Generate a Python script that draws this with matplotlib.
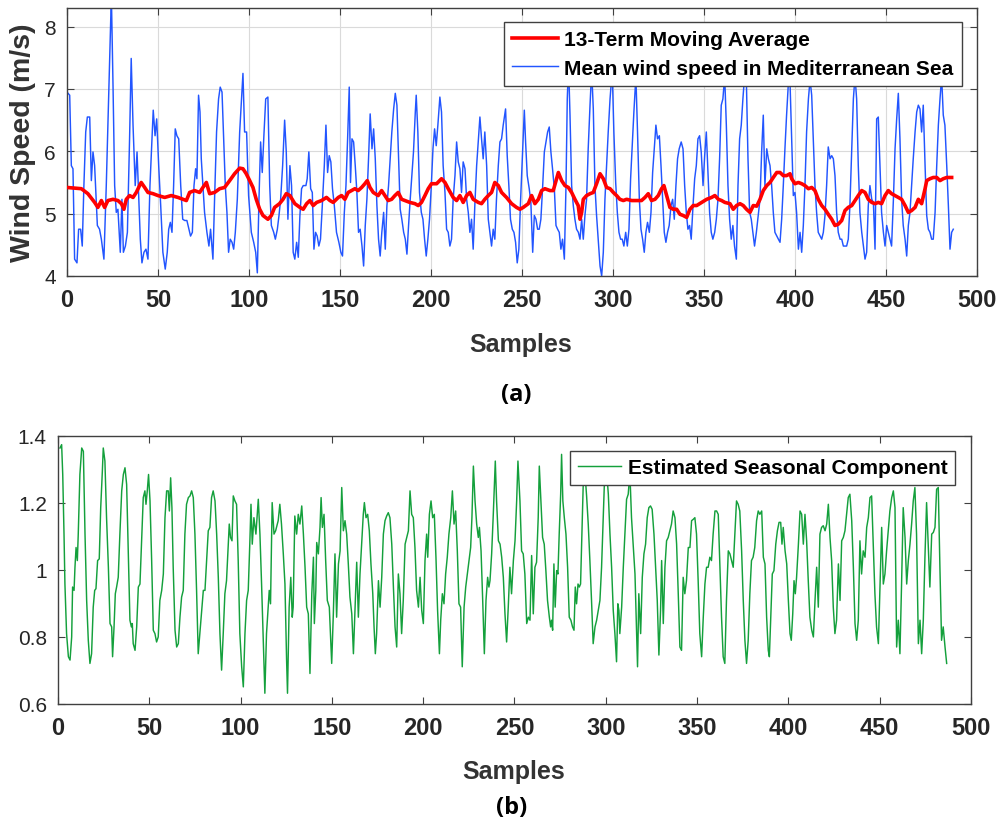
import matplotlib
matplotlib.use('Agg')
import matplotlib.pyplot as plt


# (a) mean wind speed: sample index -> m/s
wind_samples = [
    0, 1.5, 2.4, 3.3, 4.2, 5.5, 6.4, 7.5, 8.4, 9.3,
    10.3, 11.2, 12.5, 13.4, 14.3, 15.2, 16.7, 17.9, 18.9, 20.3,
    21.6, 22.9, 24.4, 25.3, 26.2, 27.1, 28.0, 29.3, 30.2, 31.0,
    32.1, 33.2, 34.4, 35.3, 36.3, 37.5, 38.5, 39.4, 40.3, 41.2,
    42.3, 43.4, 44.5, 45.6, 46.7, 47.4, 48.4, 49.3, 50.4, 51.5,
    52.7, 54.0, 55.1, 55.9, 56.8, 57.7, 58.6, 59.5, 60.4, 61.4,
    62.5, 63.6, 64.7, 65.9, 67.0, 67.9, 68.9, 69.8, 70.7, 71.4,
    72.3, 73.1, 73.8, 74.7, 75.6, 76.9, 78.0, 78.9, 80.2, 81.1,
    82.2, 83.3, 84.2, 85.2, 86.1, 87.0, 87.9, 88.8, 89.7, 90.7,
    91.6, 92.5, 93.6, 94.9, 95.8, 96.7, 97.6, 98.7, 99.8, 101.3,
    102.6, 103.7, 104.6, 105.5, 106.4, 107.3, 108.2, 109.2, 110.4, 111.4,
    112.3, 113.6, 114.5, 115.6, 116.5, 117.4, 118.5, 119.6, 120.5, 121.4,
    122.5, 123.4, 124.3, 125.2, 126.2, 127.1, 128.0, 128.9, 129.8, 131.3,
    132.0, 132.9, 133.9, 134.8, 135.7, 136.6, 137.5, 138.4, 139.3, 140.3,
    141.4, 142.3, 143.2, 144.1, 145.0, 145.9, 146.9, 148.1, 149.4, 150.5,
    151.4, 152.4, 153.3, 154.2, 155.1, 155.8, 156.6, 157.5, 158.4, 159.3,
    160.2, 161.1, 162.1, 163.0, 163.9, 164.8, 165.7, 166.6, 167.6, 168.5,
    169.4, 170.3, 171.2, 172.1, 173.0, 174.0, 174.9, 175.8, 176.7, 177.6,
    178.5, 179.5, 180.4, 181.3, 182.2, 183.1, 184.0, 185.0, 185.9, 186.8,
    187.7, 188.6, 189.5, 190.4, 191.4, 191.9, 192.8, 193.7, 194.7, 195.6,
    196.5, 197.4, 198.3, 199.2, 200.2, 201.1, 202.0, 202.9, 203.8, 204.9,
    205.8, 206.7, 207.7, 208.6, 209.5, 210.4, 211.3, 212.2, 213.2, 214.1,
    215.0, 215.9, 216.8, 217.7, 218.7, 219.6, 220.5, 221.4, 222.3, 223.2,
    224.1, 225.1, 226.0, 226.9, 227.8, 228.7, 229.6, 230.6, 231.5, 232.4,
    233.3, 234.2, 235.1, 236.0, 237.0, 237.9, 238.8, 239.7, 241.0, 241.9,
    242.8, 243.7, 244.7, 245.6, 246.5, 247.4, 248.3, 249.2, 250.2, 251.3,
    252.0, 252.9, 254.0, 254.9, 255.9, 256.8, 257.7, 258.6, 259.5, 260.4,
    261.4, 262.3, 263.2, 264.1, 265.0, 265.9, 266.8, 267.8, 268.7, 269.6,
    270.5, 271.4, 272.3, 273.3, 274.2, 274.9, 275.6, 276.4, 277.3, 278.2,
    279.1, 280.0, 281.0, 281.9, 282.8, 283.7, 284.6, 285.5, 286.4, 287.4,
    288.3, 289.2, 290.1, 291.0, 291.9, 292.9, 293.8, 294.7, 295.6, 296.5,
    297.4, 298.4, 299.6, 300.5, 301.5, 302.4, 303.3, 304.2, 305.1, 306.0,
    307.0, 307.9, 308.8, 309.7, 310.6, 311.5, 312.6, 313.5, 314.5, 315.4,
    316.3, 317.2, 318.1, 319.0, 320.0, 320.9, 321.8, 322.7, 323.6, 324.5,
    325.5, 326.4, 327.3, 328.2, 329.1, 330.0, 330.9, 331.9, 332.8, 333.7,
    334.6, 335.5, 336.4, 337.5, 338.5, 339.4, 340.3, 341.2, 342.1, 343.0,
    344.0, 344.9, 345.8, 346.7, 347.6, 348.5, 349.5, 350.4, 351.3, 352.2,
    353.1, 354.0, 354.9, 355.9, 356.8, 357.7, 358.6, 359.5, 360.4, 361.4,
    362.3, 363.2, 364.1, 365.0, 365.9, 366.8, 367.8, 368.7, 369.6, 370.5,
    371.4, 372.3, 373.3, 374.2, 375.1, 376.0, 376.9, 377.8, 378.8, 380.8,
    381.7, 382.6, 383.5, 384.5, 385.4, 386.3, 387.2, 388.1, 389.0, 390.0,
    390.9, 391.8, 392.7, 393.6, 394.5, 395.4, 396.4, 397.3, 398.2, 399.1,
    400.0, 400.9, 401.9, 402.8, 403.7, 404.6, 405.5, 406.4, 407.4, 408.3,
    409.2, 410.1, 411.0, 411.9, 412.8, 413.8, 414.7, 415.6, 416.5, 417.4,
    418.3, 419.3, 420.2, 421.1, 422.0, 422.9, 423.8, 424.8, 425.7, 426.6,
    427.5, 428.4, 429.3, 430.2, 431.2, 432.1, 433.0, 433.9, 434.8, 435.7,
    436.7, 437.6, 438.5, 439.4, 440.3, 441.2, 442.2, 443.1, 444.0, 444.9,
    445.8, 446.7, 447.6, 448.6, 449.5, 450.4, 451.3, 452.2, 453.1, 454.1,
    455.0, 455.9, 456.8, 457.7, 458.6, 459.5, 460.5, 461.4, 462.3, 463.2,
    464.1, 465.0, 466.0, 466.9, 467.8, 468.7, 469.6, 470.5, 471.5, 472.4,
    473.3, 474.2, 475.1, 476.0, 477.0, 477.9, 478.8, 479.7, 480.6, 481.5,
    482.4, 483.4, 484.3, 485.2, 486.1, 487.0,
]
wind_speed = [
    6.95, 6.90, 5.77, 5.72, 4.27, 4.21, 4.75, 4.75, 4.48, 5.45,
    6.31, 6.55, 6.55, 5.53, 5.99, 5.77, 4.81, 4.75, 4.59, 4.27,
    5.45, 6.84, 8.50, 7.06, 5.45, 5.02, 5.07, 4.38, 5.23, 4.38,
    4.48, 4.70, 6.20, 7.49, 6.42, 5.45, 5.99, 5.29, 4.59, 4.21,
    4.38, 4.43, 4.27, 5.45, 6.20, 6.66, 6.25, 6.52, 5.77, 5.13,
    4.38, 4.11, 4.38, 4.75, 4.86, 4.70, 5.45, 6.36, 6.25, 6.20,
    5.45, 4.91, 4.89, 4.89, 4.75, 4.64, 4.70, 5.45, 5.72, 5.56,
    6.90, 6.63, 5.88, 5.45, 5.02, 4.70, 4.48, 4.75, 4.27, 5.23,
    6.31, 6.84, 7.03, 6.95, 6.20, 5.45, 5.02, 4.38, 4.59, 4.54,
    4.43, 4.70, 5.23, 6.31, 6.79, 7.25, 6.31, 6.31, 5.29, 4.70,
    4.54, 4.38, 4.05, 5.23, 6.15, 5.66, 6.25, 6.84, 6.87, 5.45,
    4.81, 4.70, 4.59, 4.75, 4.97, 5.23, 5.77, 6.50, 5.99, 4.91,
    5.77, 5.45, 4.38, 4.27, 4.54, 4.30, 4.97, 5.40, 5.45, 5.45,
    5.56, 5.99, 5.40, 5.34, 4.43, 4.70, 4.64, 4.48, 4.59, 5.13,
    5.77, 6.42, 5.66, 5.93, 5.83, 5.40, 5.13, 4.70, 4.54, 4.38,
    4.32, 5.02, 5.45, 6.20, 7.03, 5.50, 6.20, 6.15, 5.77, 5.34,
    4.70, 4.75, 4.48, 4.16, 4.81, 5.23, 5.88, 6.60, 6.04, 6.36,
    5.88, 5.13, 4.59, 4.32, 4.70, 5.02, 4.43, 5.13, 5.45, 5.88,
    6.31, 6.68, 6.93, 6.74, 5.88, 5.07, 4.91, 4.70, 4.59, 4.35,
    4.81, 5.23, 5.61, 5.99, 6.63, 6.90, 6.31, 5.34, 5.02, 4.91,
    4.59, 4.32, 4.59, 4.91, 5.45, 6.04, 6.36, 6.09, 6.42, 6.87,
    6.63, 5.77, 5.34, 4.75, 4.70, 4.48, 4.59, 5.23, 5.61, 6.15,
    5.83, 5.72, 5.34, 5.83, 5.72, 5.23, 5.02, 4.70, 4.91, 4.43,
    5.13, 5.77, 6.15, 6.55, 6.20, 5.88, 6.31, 5.77, 4.91, 4.70,
    4.48, 4.75, 4.59, 5.23, 5.77, 6.15, 6.20, 6.42, 6.68, 5.93,
    5.45, 4.91, 4.75, 4.70, 4.54, 4.21, 4.43, 5.18, 5.88, 6.66,
    6.15, 5.61, 5.40, 5.18, 4.38, 4.97, 4.91, 4.75, 4.75, 4.91,
    5.45, 5.99, 6.15, 6.31, 6.39, 5.99, 5.72, 5.40, 4.81, 4.75,
    4.70, 4.43, 4.59, 4.27, 5.45, 6.84, 7.40, 6.58, 5.45, 5.13,
    4.91, 4.75, 4.70, 4.59, 4.91, 4.59, 4.97, 5.23, 6.04, 6.74,
    7.30, 6.68, 5.45, 4.97, 4.59, 4.16, 4.00, 4.38, 5.23, 5.77,
    6.31, 6.84, 7.30, 6.31, 5.50, 5.02, 4.70, 4.59, 4.59, 4.48,
    4.70, 4.48, 4.75, 5.56, 6.09, 6.63, 7.20, 6.31, 5.23, 4.75,
    4.59, 4.38, 4.70, 4.86, 4.70, 5.02, 5.66, 6.04, 6.42, 6.20,
    6.25, 5.77, 5.23, 4.70, 4.54, 4.70, 4.81, 5.13, 5.23, 4.91,
    5.45, 5.88, 6.04, 6.15, 6.04, 5.45, 5.02, 4.75, 4.81, 4.59,
    5.13, 5.56, 5.77, 6.20, 6.25, 5.99, 5.45, 5.93, 6.31, 5.66,
    5.02, 4.70, 4.59, 4.70, 4.91, 5.23, 5.88, 6.74, 6.84, 7.20,
    6.42, 5.45, 4.91, 4.59, 4.81, 4.48, 4.27, 5.45, 6.20, 6.42,
    6.84, 7.20, 7.15, 5.88, 5.02, 4.91, 4.70, 4.48, 4.70, 5.23,
    5.99, 6.58, 5.45, 6.04, 5.88, 5.77, 5.45, 5.02, 4.70, 4.64,
    4.59, 4.54, 4.91, 5.45, 6.04, 6.58, 7.10, 7.10, 6.20, 5.29,
    5.34, 5.02, 4.43, 4.70, 4.38, 4.81, 5.45, 6.31, 6.84, 7.15,
    6.90, 6.15, 5.45, 5.02, 4.70, 4.64, 4.59, 4.70, 4.97, 5.45,
    6.07, 5.88, 5.93, 5.88, 5.61, 5.02, 4.70, 4.59, 4.59, 4.48,
    4.48, 4.48, 4.59, 5.13, 6.04, 6.84, 7.20, 6.84, 5.77, 5.02,
    4.70, 4.48, 4.27, 4.38, 5.13, 5.45, 5.23, 5.18, 4.43, 6.52,
    6.55, 5.77, 5.02, 4.70, 4.48, 4.81, 4.70, 4.59, 4.48, 5.23,
    6.04, 6.52, 6.93, 6.20, 5.23, 4.81, 4.59, 4.32, 4.81, 5.02,
    5.45, 5.88, 6.31, 6.63, 6.74, 6.68, 6.31, 6.74, 5.77, 4.97,
    4.75, 4.70, 4.59, 4.59, 5.02, 5.77, 6.42, 6.84, 7.20, 6.58,
    6.42, 5.77, 5.13, 4.43, 4.70, 4.75,
]

# 13-term moving average (red)
ma_samples = [
    0, 4.2, 7.9, 11.5, 15.2, 17.0, 18.9, 20.7, 22.5, 25.3,
    28.0, 29.9, 31.3, 32.6, 34.4, 36.3, 38.1, 39.9, 40.8, 42.7,
    44.5, 47.3, 50.0, 53.7, 57.3, 61.0, 63.7, 65.6, 67.4, 70.1,
    72.9, 74.7, 76.6, 78.4, 81.1, 83.9, 86.6, 89.4, 92.1, 94.9,
    96.7, 98.5, 100.4, 102.2, 104.0, 105.9, 107.7, 110.4, 112.3, 114.1,
    116.8, 118.7, 120.5, 122.5, 125.2, 128.0, 129.8, 131.7, 133.5, 135.3,
    137.2, 139.9, 142.6, 144.5, 146.3, 149.1, 150.9, 152.7, 154.5, 156.4,
    158.2, 160.0, 161.9, 163.7, 165.0, 166.5, 168.3, 171.0, 172.9, 174.7,
    176.5, 178.4, 180.2, 182.0, 183.9, 185.7, 188.4, 191.2, 193.0, 194.8,
    196.7, 198.5, 200.3, 203.1, 205.8, 207.7, 209.5, 212.2, 214.1, 215.9,
    217.7, 219.6, 221.4, 223.2, 226.0, 227.8, 229.6, 231.5, 233.3, 235.1,
    237.0, 238.8, 241.5, 244.3, 247.0, 248.9, 250.7, 253.5, 255.3, 257.1,
    259.0, 260.8, 262.6, 265.4, 267.2, 269.0, 270.0, 271.8, 273.6, 275.5,
    277.3, 279.1, 280.9, 281.9, 282.8, 283.7, 285.5, 287.4, 289.2, 291.0,
    292.9, 294.7, 296.5, 298.4, 300.2, 302.0, 303.8, 305.7, 307.5, 310.3,
    313.0, 315.7, 317.6, 319.4, 321.2, 323.1, 324.9, 326.7, 328.0, 329.5,
    331.3, 333.1, 335.0, 336.8, 338.6, 340.5, 342.3, 344.1, 346.0, 348.7,
    351.5, 354.2, 356.0, 357.9, 359.7, 361.5, 364.3, 366.1, 367.9, 369.8,
    371.6, 373.4, 375.3, 377.1, 379.0, 380.8, 382.6, 384.5, 386.3, 388.1,
    390.0, 391.8, 393.6, 395.4, 397.3, 398.2, 400.0, 401.9, 403.7, 405.5,
    407.4, 409.2, 411.0, 412.8, 414.7, 416.5, 418.3, 420.2, 422.0, 423.8,
    425.7, 427.5, 429.3, 431.2, 433.0, 434.8, 436.7, 438.5, 440.3, 442.2,
    444.0, 445.8, 447.6, 449.5, 451.3, 453.1, 455.0, 456.8, 458.6, 460.5,
    462.3, 464.1, 466.0, 467.8, 469.6, 471.5, 472.4, 474.2, 476.0, 477.9,
    479.7, 481.5, 483.4, 486.1,
]
ma_speed = [
    5.42, 5.41, 5.40, 5.32, 5.18, 5.10, 5.21, 5.10, 5.21, 5.23,
    5.21, 5.16, 5.07, 5.23, 5.29, 5.26, 5.34, 5.45, 5.50, 5.42,
    5.34, 5.32, 5.29, 5.26, 5.29, 5.26, 5.23, 5.21, 5.34, 5.37,
    5.34, 5.42, 5.50, 5.32, 5.34, 5.40, 5.42, 5.53, 5.64, 5.73,
    5.72, 5.64, 5.53, 5.42, 5.23, 5.07, 4.97, 4.91, 4.97, 5.10,
    5.16, 5.23, 5.32, 5.29, 5.16, 5.10, 5.07, 5.16, 5.21, 5.13,
    5.18, 5.21, 5.26, 5.21, 5.18, 5.26, 5.29, 5.23, 5.34, 5.37,
    5.40, 5.37, 5.42, 5.48, 5.53, 5.42, 5.34, 5.29, 5.37, 5.29,
    5.21, 5.23, 5.29, 5.34, 5.23, 5.21, 5.18, 5.16, 5.13, 5.18,
    5.29, 5.40, 5.48, 5.48, 5.56, 5.50, 5.40, 5.26, 5.21, 5.29,
    5.18, 5.29, 5.34, 5.23, 5.18, 5.16, 5.23, 5.29, 5.34, 5.50,
    5.45, 5.34, 5.26, 5.16, 5.10, 5.07, 5.10, 5.16, 5.29, 5.16,
    5.23, 5.37, 5.40, 5.37, 5.37, 5.56, 5.66, 5.53, 5.45, 5.42,
    5.34, 5.23, 5.13, 4.91, 5.02, 5.23, 5.29, 5.32, 5.34, 5.48,
    5.64, 5.56, 5.42, 5.40, 5.34, 5.29, 5.23, 5.21, 5.23, 5.21,
    5.21, 5.21, 5.26, 5.32, 5.21, 5.23, 5.29, 5.40, 5.45, 5.29,
    5.10, 5.07, 5.07, 4.99, 4.97, 4.94, 5.07, 5.13, 5.13, 5.18,
    5.23, 5.26, 5.29, 5.23, 5.21, 5.18, 5.16, 5.07, 5.13, 5.16,
    5.13, 5.07, 5.02, 5.13, 5.12, 5.23, 5.37, 5.45, 5.50, 5.58,
    5.66, 5.66, 5.61, 5.61, 5.64, 5.56, 5.48, 5.50, 5.48, 5.45,
    5.40, 5.42, 5.37, 5.23, 5.13, 5.07, 4.99, 4.91, 4.81, 4.83,
    4.89, 5.05, 5.10, 5.13, 5.21, 5.29, 5.37, 5.34, 5.23, 5.18,
    5.16, 5.18, 5.16, 5.29, 5.37, 5.32, 5.29, 5.26, 5.23, 5.13,
    5.02, 5.05, 5.10, 5.23, 5.16, 5.40, 5.53, 5.56, 5.58, 5.58,
    5.53, 5.56, 5.58, 5.58,
]

# (b) estimated seasonal component (green)
seasonal_samples = [
    1.1, 2.0, 2.6, 3.3, 3.8, 4.7, 5.7, 6.6, 7.5, 8.0,
    8.8, 9.3, 9.9, 10.6, 11.1, 12.0, 13.0, 13.9, 14.8, 15.7,
    16.6, 17.5, 18.4, 19.3, 20.1, 20.8, 21.7, 22.6, 23.4, 24.3,
    24.8, 25.7, 26.6, 27.6, 28.5, 29.4, 29.9, 30.7, 31.4, 32.1,
    33.0, 33.9, 34.9, 35.8, 36.7, 37.6, 38.5, 39.4, 40.2, 40.7,
    41.2, 42.2, 43.1, 44.0, 44.9, 45.8, 46.7, 47.6, 48.2, 48.9,
    49.6, 50.4, 51.3, 52.2, 53.1, 54.0, 54.9, 55.8, 56.8, 57.7,
    58.6, 59.5, 60.4, 61.0, 61.7, 62.4, 63.1, 64.1, 65.0, 65.9,
    66.8, 67.7, 68.6, 69.5, 70.4, 71.4, 72.3, 73.2, 74.1, 75.0,
    75.9, 76.8, 77.7, 78.7, 79.6, 80.5, 81.4, 82.3, 83.2, 84.1,
    85.0, 86.0, 86.9, 87.8, 88.7, 89.6, 90.5, 91.4, 92.3, 93.3,
    93.8, 94.5, 95.3, 96.0, 96.9, 97.8, 98.7, 99.6, 100.6, 101.5,
    102.4, 103.3, 104.2, 105.1, 105.7, 106.4, 107.3, 108.4, 109.7, 110.6,
    111.5, 112.4, 113.3, 114.2, 115.1, 115.7, 116.4, 117.3, 118.3, 119.2,
    120.6, 121.5, 122.4, 123.4, 124.3, 125.2, 125.7, 126.6, 127.5, 128.3,
    128.8, 129.7, 130.7, 131.6, 132.5, 133.5, 134.4, 135.3, 136.2, 137.1,
    138.0, 139.0, 139.9, 140.4, 141.2, 141.7, 142.6, 143.5, 144.1, 144.8,
    145.7, 146.6, 147.5, 148.6, 149.9, 150.8, 151.7, 152.6, 153.6, 154.5,
    155.4, 156.3, 157.2, 158.1, 159.0, 159.9, 160.9, 161.8, 162.7, 163.6,
    164.5, 165.4, 166.3, 167.2, 167.8, 168.7, 169.6, 170.5, 171.4, 172.4,
    173.1, 173.8, 174.5, 175.5, 176.4, 177.3, 178.2, 179.1, 180.0, 180.9,
    181.8, 182.8, 183.7, 184.6, 185.5, 186.4, 187.3, 188.2, 189.1, 190.1,
    191.0, 191.9, 192.8, 193.7, 194.6, 195.5, 196.4, 197.4, 198.3, 199.2,
    200.1, 201.0, 201.9, 202.5, 203.4, 204.3, 205.2, 206.1, 207.0, 207.9,
    208.9, 209.6, 210.5, 211.4, 212.3, 213.2, 214.1, 215.1, 216.0, 216.9,
    217.8, 218.7, 219.6, 220.5, 221.4, 222.4, 223.3, 224.2, 225.1, 226.0,
    226.7, 227.5, 228.4, 229.3, 230.2, 230.8, 231.7, 232.6, 233.5, 234.4,
    235.3, 236.0, 236.6, 237.5, 238.4, 239.5, 240.2, 241.2, 242.1, 243.0,
    243.9, 244.8, 245.7, 246.6, 247.5, 248.4, 249.4, 250.3, 251.2, 251.9,
    253.0, 253.9, 254.8, 255.7, 256.7, 257.6, 258.5, 259.4, 260.3, 261.2,
    262.1, 263.0, 263.6, 264.5, 265.4, 266.3, 267.2, 268.1, 269.1, 269.8,
    270.3, 270.9, 271.6, 272.3, 273.1, 273.8, 274.5, 275.3, 275.8, 276.5,
    277.3, 278.2, 279.1, 280.0, 280.9, 281.8, 282.6, 283.3, 284.0, 284.8,
    285.5, 286.2, 286.9, 287.7, 288.6, 289.5, 290.4, 291.3, 292.2, 293.1,
    294.1, 295.0, 295.9, 296.8, 297.7, 298.6, 299.5, 300.4, 301.4, 302.3,
    303.2, 304.1, 305.0, 305.9, 306.6, 307.2, 307.7, 308.7, 309.6, 310.5,
    311.4, 312.3, 313.2, 314.1, 315.0, 316.0, 316.9, 317.4, 318.1, 319.1,
    320.0, 320.9, 321.8, 322.7, 323.6, 324.5, 325.4, 326.4, 327.3, 328.2,
    329.1, 330.0, 330.6, 331.5, 332.4, 333.3, 334.2, 335.1, 336.0, 336.9,
    337.9, 338.8, 339.7, 340.6, 341.5, 342.4, 343.3, 344.2, 345.2, 346.1,
    347.0, 347.9, 348.8, 349.7, 350.6, 351.5, 352.5, 353.4, 354.3, 355.2,
    356.1, 357.0, 357.9, 358.8, 359.8, 360.7, 361.6, 362.5, 363.4, 364.3,
    365.2, 366.1, 367.1, 368.0, 368.9, 369.8, 370.7, 371.6, 372.5, 373.4,
    374.4, 375.3, 376.2, 377.1, 378.0, 378.9, 379.8, 380.7, 381.6, 382.6,
    383.5, 384.4, 385.4, 386.3, 387.2, 388.1, 389.0, 389.6, 390.3, 391.2,
    392.1, 393.1, 394.0, 394.9, 395.8, 396.5, 397.2, 398.2, 399.1, 400.0,
    400.9, 401.6, 402.4, 403.1, 403.8, 404.5, 405.5, 406.4, 407.3, 408.2,
    409.1, 410.0, 410.9, 411.8, 412.8, 413.7, 414.6, 415.5, 416.4, 417.3,
    418.2, 419.1, 420.1, 421.0, 421.9, 422.8, 423.7, 424.6, 425.5, 426.4,
    427.4, 428.3, 429.2, 430.1, 431.0, 431.9, 432.8, 433.7, 434.7, 435.6,
    436.5, 437.4, 438.3, 439.2, 440.1, 441.0, 442.0, 442.9, 443.8, 444.7,
    445.6, 446.5, 447.4, 448.3, 449.3, 450.2, 451.1, 452.0, 452.9, 453.8,
    454.7, 455.6, 456.6, 457.5, 458.4, 459.3, 460.2, 461.1, 462.0, 462.9,
    463.9, 464.8, 465.7, 466.6, 467.5, 468.4, 469.3, 470.2, 471.2, 472.1,
    473.0, 473.9, 474.8, 475.7, 476.6, 477.5, 478.5, 479.4, 480.3, 481.2,
    482.1, 483.0, 483.9, 484.8, 485.8, 486.7,
]
seasonal_index = [
    1.364, 1.374, 1.285, 1.107, 0.958, 0.810, 0.741, 0.731, 0.800, 0.949,
    0.939, 1.008, 1.067, 1.028, 1.107, 1.285, 1.364, 1.354, 1.107, 0.909,
    0.790, 0.721, 0.750, 0.889, 0.939, 0.944, 1.028, 1.033, 1.186, 1.295,
    1.364, 1.325, 1.156, 1.008, 0.840, 0.830, 0.741, 0.830, 0.929, 0.949,
    0.978, 1.107, 1.236, 1.285, 1.305, 1.255, 1.057, 0.850, 0.830, 0.840,
    0.780, 0.760, 0.830, 0.949, 0.958, 1.087, 1.216, 1.236, 1.196, 1.236,
    1.285, 1.206, 1.028, 0.820, 0.810, 0.785, 0.800, 0.909, 0.939, 0.988,
    1.156, 1.236, 1.236, 1.176, 1.275, 1.186, 1.008, 0.820, 0.770, 0.780,
    0.859, 0.919, 0.939, 1.107, 1.196, 1.216, 1.221, 1.236, 1.216, 1.107,
    0.939, 0.750, 0.810, 0.879, 0.939, 0.939, 1.028, 1.117, 1.127, 1.216,
    1.236, 1.206, 1.107, 0.978, 0.810, 0.701, 0.810, 0.929, 0.968, 1.077,
    1.137, 1.097, 1.087, 1.221, 1.206, 1.196, 1.028, 0.810, 0.711, 0.651,
    0.810, 0.909, 0.939, 1.087, 1.196, 1.077, 1.156, 1.107, 1.211, 1.107,
    0.958, 0.790, 0.632, 0.810, 0.889, 0.939, 0.899, 1.201, 1.107, 1.117,
    1.147, 1.196, 1.137, 1.048, 0.958, 0.731, 0.632, 0.889, 0.978, 0.859,
    0.889, 1.161, 1.107, 1.166, 1.137, 1.191, 1.107, 1.008, 0.889, 0.869,
    0.691, 0.929, 1.038, 0.840, 0.939, 1.082, 1.048, 1.127, 1.216, 1.127,
    1.166, 1.028, 0.909, 0.889, 0.721, 0.869, 1.048, 0.859, 1.018, 1.057,
    1.246, 1.117, 1.147, 1.107, 1.018, 0.919, 0.869, 0.750, 0.889, 1.023,
    0.859, 0.988, 1.077, 1.166, 1.201, 1.156, 1.166, 1.117, 1.018, 0.929,
    0.830, 0.750, 0.810, 0.968, 0.889, 0.978, 1.107, 1.147, 1.161, 1.171,
    1.156, 1.077, 0.949, 0.830, 0.770, 0.988, 0.929, 0.810, 0.909, 1.077,
    1.097, 1.117, 1.236, 1.166, 1.156, 1.067, 0.939, 0.889, 0.978, 0.879,
    0.840, 1.028, 1.107, 1.038, 1.166, 1.206, 1.156, 1.166, 1.038, 0.879,
    0.750, 0.850, 0.929, 0.899, 0.988, 1.038, 1.107, 1.156, 1.236, 1.137,
    1.176, 1.057, 0.899, 0.889, 0.711, 0.889, 0.949, 0.988, 1.028, 1.067,
    1.156, 1.310, 1.206, 1.137, 1.097, 1.127, 1.057, 0.909, 0.750, 0.909,
    0.978, 0.949, 0.968, 1.048, 1.166, 1.325, 1.206, 1.087, 1.077, 1.038,
    0.978, 0.869, 0.785, 0.889, 1.008, 0.929, 1.028, 1.087, 1.206, 1.325,
    1.206, 1.057, 1.048, 0.988, 0.840, 0.859, 0.850, 1.043, 0.869, 1.008,
    1.023, 1.156, 1.310, 1.206, 1.097, 1.077, 0.998, 0.909, 0.859, 0.830,
    0.850, 0.820, 1.018, 0.889, 0.998, 0.988, 1.107, 1.226, 1.345, 1.206,
    1.156, 1.107, 1.008, 0.859, 0.850, 0.830, 0.820, 0.949, 0.899, 0.958,
    0.949, 0.958, 1.107, 1.265, 1.290, 1.221, 1.137, 1.028, 0.909, 0.780,
    0.830, 0.850, 0.879, 0.909, 1.008, 1.156, 1.300, 1.300, 1.226, 1.107,
    1.008, 0.879, 0.810, 0.726, 0.899, 0.879, 0.810, 0.889, 1.008, 1.107,
    1.211, 1.226, 1.290, 1.156, 1.077, 0.988, 0.810, 0.711, 0.929, 0.810,
    0.978, 1.048, 1.077, 1.156, 1.186, 1.191, 1.181, 1.107, 1.008, 0.909,
    0.746, 0.879, 1.028, 0.840, 1.008, 1.087, 1.097, 1.117, 1.137, 1.176,
    1.156, 1.077, 0.929, 0.770, 0.760, 0.978, 0.929, 0.968, 1.067, 1.067,
    1.147, 1.151, 1.156, 1.107, 0.968, 0.810, 0.741, 0.859, 0.958, 1.008,
    1.008, 1.038, 1.028, 1.107, 1.176, 1.176, 1.166, 1.008, 0.859, 0.741,
    0.721, 0.909, 1.057, 1.048, 1.028, 1.008, 1.107, 1.206, 1.196, 1.176,
    1.057, 0.909, 0.790, 0.721, 0.790, 0.929, 1.028, 1.038, 1.067, 1.147,
    1.176, 1.166, 1.176, 1.038, 1.018, 0.859, 0.760, 0.741, 0.850, 0.988,
    0.998, 1.077, 1.117, 1.142, 1.142, 1.077, 1.127, 1.057, 1.018, 0.909,
    0.810, 0.790, 0.869, 0.968, 0.929, 0.978, 1.077, 1.176, 1.166, 1.077,
    1.166, 1.087, 0.968, 0.859, 0.820, 0.800, 0.909, 1.008, 0.889, 1.107,
    1.127, 1.132, 1.117, 1.137, 1.196, 1.097, 1.028, 0.889, 0.810, 0.850,
    1.018, 0.909, 1.087, 1.097, 1.117, 1.166, 1.216, 1.226, 1.147, 1.008,
    0.840, 0.790, 0.850, 1.087, 0.988, 1.057, 1.038, 1.127, 1.156, 1.216,
    1.221, 1.077, 0.929, 0.830, 0.780, 0.958, 1.127, 0.958, 0.988, 1.057,
    1.117, 1.176, 1.216, 1.236, 1.186, 0.770, 0.850, 0.750, 0.958, 1.186,
    1.097, 0.958, 1.028, 1.077, 1.137, 1.206, 1.246, 1.107, 0.780, 0.850,
    0.750, 0.850, 1.038, 1.201, 1.077, 0.949, 1.107, 1.112, 1.127, 1.241,
    1.246, 1.008, 0.790, 0.830, 0.770, 0.721,
]

x_ticks = list(range(0, 501, 50))
wind_ticks = [4, 5, 6, 7, 8]
seasonal_ticks = [0.6, 0.8, 1.0, 1.2, 1.4]
seasonal_tick_labels = ['0.6', '0.8', '1', '1.2', '1.4']

assert len(wind_samples) == len(wind_speed)
assert len(ma_samples) == len(ma_speed)
assert len(seasonal_samples) == len(seasonal_index)

plt.rcParams['font.family'] = ['Liberation Sans', 'DejaVu Sans']

AX_COLOR = '#404040'
TEXT_COLOR = '#262626'
LABEL_COLOR = '#333333'


def style_axes(ax, grid):
    for side in ax.spines.values():
        side.set_color(AX_COLOR)
        side.set_linewidth(1.0)
    ax.tick_params(direction='in', top=True, right=True, length=5, width=0.8,
                   color=AX_COLOR)
    ax.tick_params(axis='x', labelsize=17, pad=9, labelcolor=TEXT_COLOR)
    ax.tick_params(axis='y', labelsize=15, pad=8, labelcolor=TEXT_COLOR)
    for lab in ax.get_xticklabels():
        lab.set_fontweight('bold')
    if grid:
        ax.grid(True, color='#dadada', linewidth=0.8)
        ax.set_axisbelow(True)


def boxed_legend(ax, anchor, handlelength, labelspacing, borderpad):
    leg = ax.legend(loc='upper right', bbox_to_anchor=anchor,
                    borderaxespad=0, fancybox=False, framealpha=1,
                    edgecolor=AX_COLOR, handlelength=handlelength,
                    handletextpad=0.3, labelspacing=labelspacing,
                    borderpad=borderpad, prop={'size': 15, 'weight': 'bold'})
    leg.get_frame().set_linewidth(1.0)
    leg.set_zorder(5)
    return leg


fig = plt.figure(figsize=(9.98, 8.28), dpi=100)

# ---- panel (a)
ax1 = fig.add_axes([0.0671, 0.6655, 0.9118, 0.3237])
ax1.plot(ma_samples, ma_speed, color='#ff0000', linewidth=2.6,
         label='13-Term Moving Average', zorder=3)
ax1.plot(wind_samples, wind_speed, color='#2255ff', linewidth=1.05,
         label='Mean wind speed in Mediterranean Sea', zorder=2)
ax1.set_xlim(0, 500)
ax1.set_ylim(4, 8.3)
ax1.set_xticks(x_ticks)
ax1.set_yticks(wind_ticks)
style_axes(ax1, grid=True)
boxed_legend(ax1, (0.9835, 0.948), 2.2, 0.45, 0.4)

fig.text(23 / 998, 1 - 143 / 828, 'Wind Speed (m/s)', rotation=90,
         ha='center', va='center', fontsize=20.5, fontweight='bold',
         color=LABEL_COLOR)
fig.text(521 / 998, 1 - 345 / 828, 'Samples', ha='center', va='center',
         fontsize=18, fontweight='bold', color=LABEL_COLOR)
fig.text(516 / 998, 1 - 395 / 828, '(a)', ha='center', va='center',
         fontsize=17, fontweight='bold', color='black',
         family=['Open Sans', 'DejaVu Sans'])

# ---- panel (b)
ax2 = fig.add_axes([0.0581, 0.1486, 0.9148, 0.3237])
ax2.plot(seasonal_samples, seasonal_index, color='#14a03c', linewidth=1.05,
         label='Estimated Seasonal Component')
ax2.set_xlim(0, 500)
ax2.set_ylim(0.6, 1.4)
ax2.set_xticks(x_ticks)
ax2.set_yticks(seasonal_ticks)
ax2.set_yticklabels(seasonal_tick_labels)
style_axes(ax2, grid=False)
boxed_legend(ax2, (0.9825, 0.945), 2.1, 0.4, 0.36)

fig.text(514 / 998, 1 - 772 / 828, 'Samples', ha='center', va='center',
         fontsize=18, fontweight='bold', color=LABEL_COLOR)
fig.text(512 / 998, 1 - 808 / 828, '(b)', ha='center', va='center',
         fontsize=17, fontweight='bold', color='black',
         family=['Open Sans', 'DejaVu Sans'])

fig.savefig('out.png', dpi=100)
